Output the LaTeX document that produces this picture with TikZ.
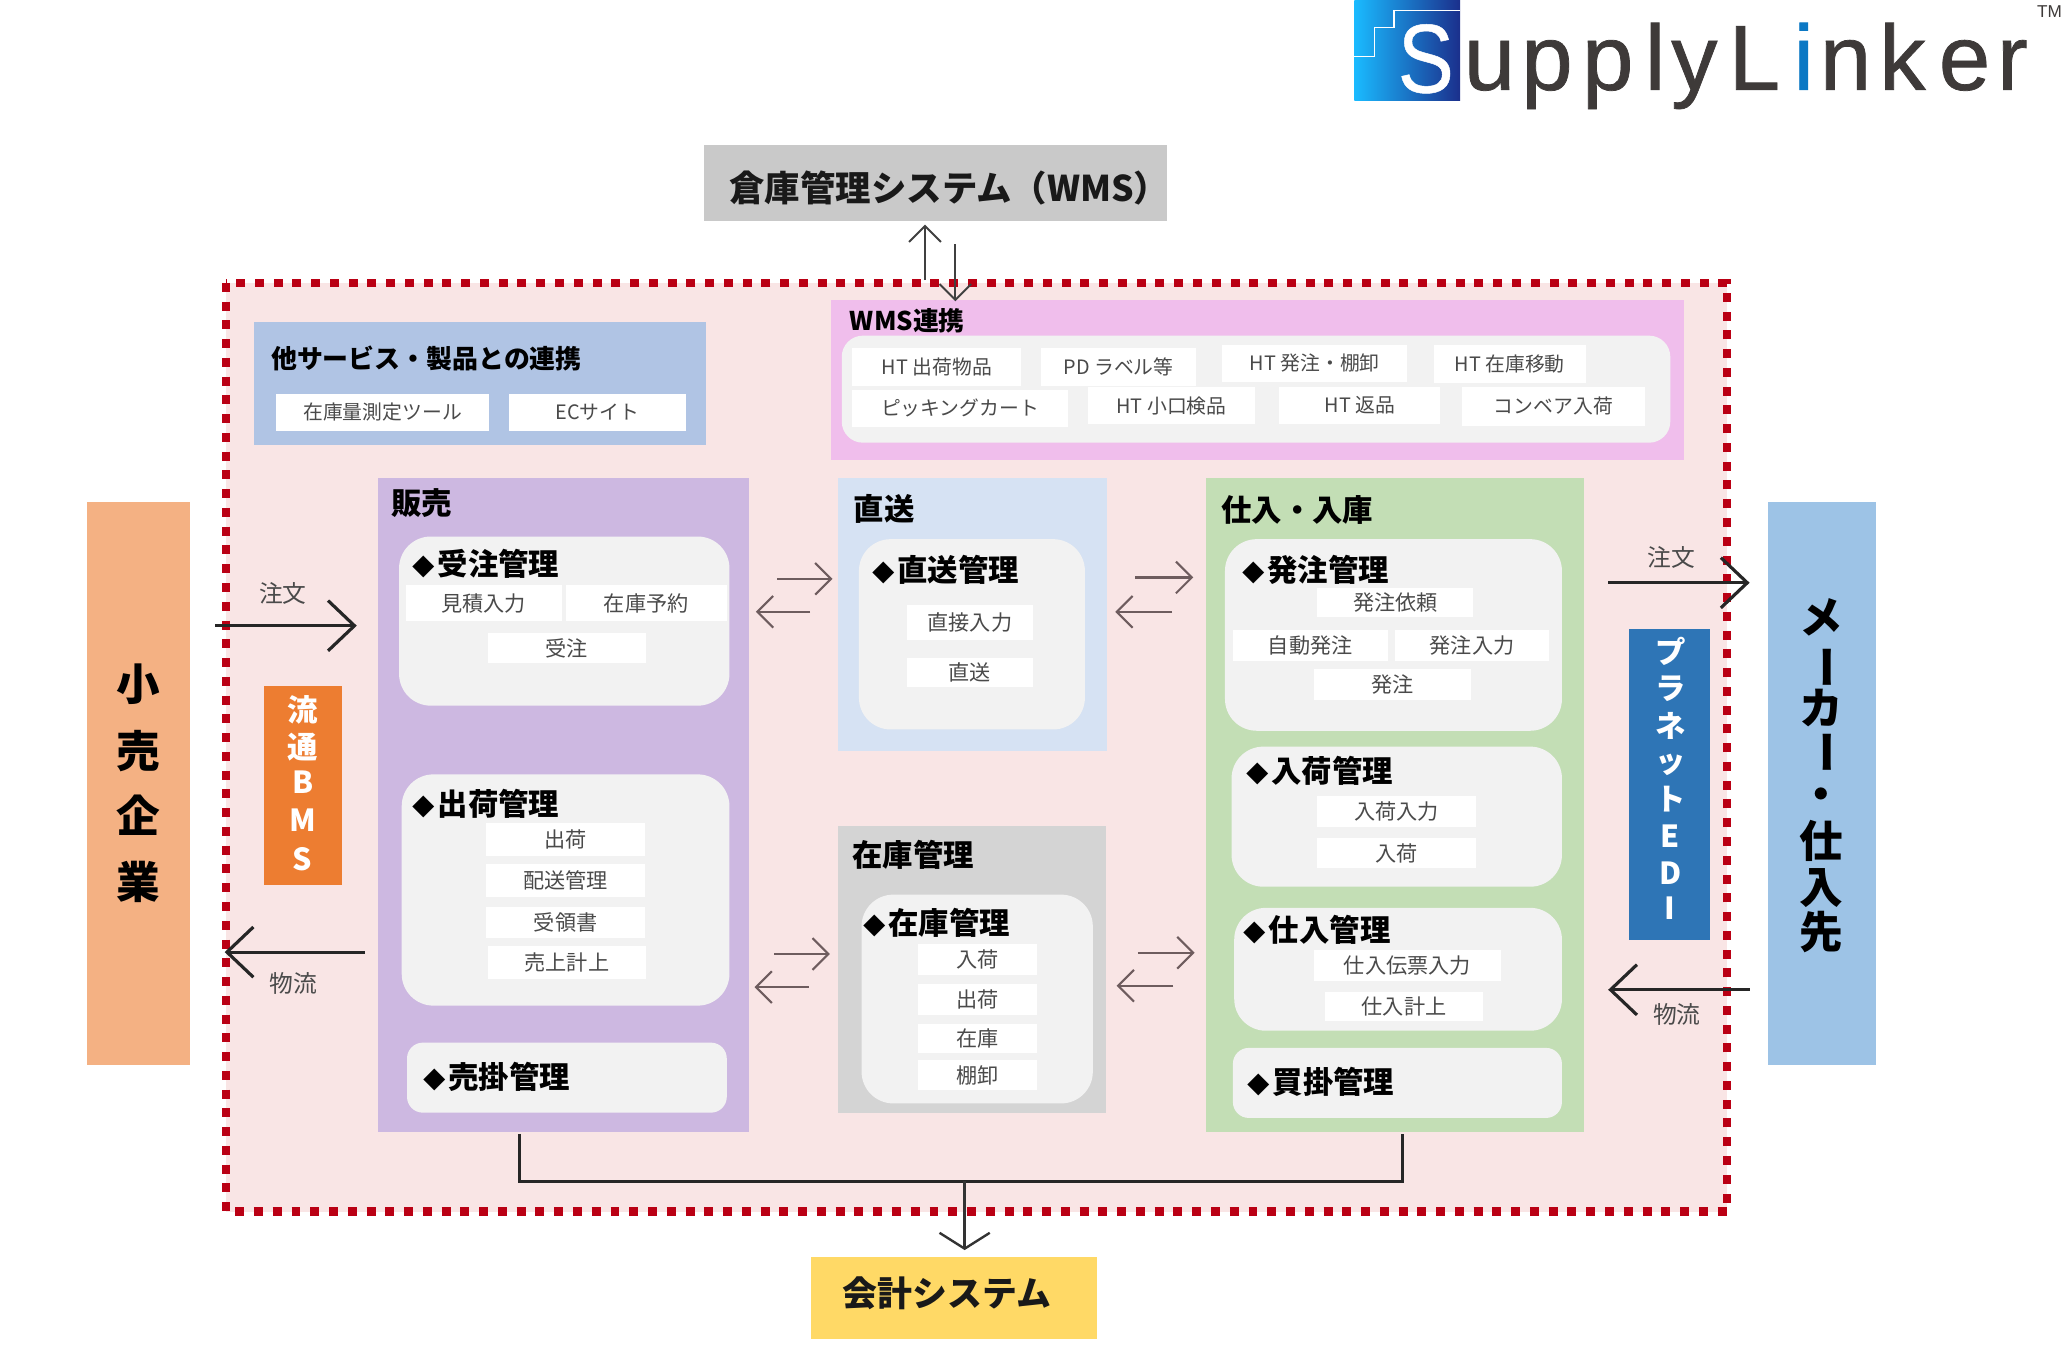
\documentclass[tikz,border=0pt]{standalone}
\usepackage{fontspec}
\setmainfont{Noto Sans CJK JP}
\newfontfamily\logofont[FakeBold=0.8]{Liberation Sans}
\newfontfamily\lsfont[FakeBold=0.5]{Liberation Sans}
\newfontfamily\tmfont{Liberation Sans}
\usetikzlibrary{arrows.meta}
\definecolor{framered}{HTML}{BA0014}
\definecolor{framefill}{HTML}{F9E5E5}
\definecolor{cellgray}{HTML}{F2F2F2}
\definecolor{celltext}{HTML}{4A4A4A}
\definecolor{smallarrow}{HTML}{6E5C5E}
\definecolor{logotext}{HTML}{3E3A39}
\definecolor{logoblue}{HTML}{0B78C4}
\newcommand\fs[1]{\fontsize{#1}{#1}\selectfont}
\newcommand\dia{\makebox[19pt][l]{\fs{17}◆}}
\newcommand\rbox[7][]{\node[#1,minimum width={(#4-#2)*1pt},minimum height={(#5-#3)*1pt}] (#6) at ({(#2+#4)/2},{(#3+#5)/2}) {#7};}
\tikzset{
  x=1pt,y=-1pt,
  flat/.style={inner sep=0pt,outer sep=0pt,rectangle},
  inner/.style={flat,fill=cellgray,rounded corners=24pt},
  innerflat/.style={flat,fill=cellgray,rounded corners=12pt},
  cellbox/.style={flat,fill=white,text=celltext,font=\fs{16}},
  wcell/.style={flat,fill=white,text=celltext,font=\fs{15}},
  title/.style={anchor=west,inner sep=0pt,font=\fs{23}\bfseries,text=black},
  lbl/.style={inner sep=0pt,font=\fs{18},text=celltext},
  logoletter/.style={inner sep=0pt,anchor=base west,text=logotext,font=\fs{70}\logofont},
  bigarrow/.style={line width=2.4pt,draw=black!85,-{Straight Barb[length=20pt,width=38pt,line width=2.4pt]}},
  smallarr/.style={line width=1.6pt,draw=smallarrow,-{Straight Barb[length=12pt,width=24pt,line width=1.6pt]}},
  medarr/.style={line width=1.5pt,draw=black!75,-{Straight Barb[length=12pt,width=24pt,line width=1.5pt]}},
  vchar/.style={inner sep=0pt,font=\fs{33}\bfseries,text=black},
  wchar/.style={inner sep=0pt,text=white,font=\fs{23}\bfseries},
}
\begin{document}
\begin{tikzpicture}
\useasboundingbox (0,0) rectangle (1568,1021);
\fill[white] (0,0) rectangle (1568,1021);

% logo
\shade[left color=cyan!70!blue!90!white,middle color={rgb,255:red,40;green,160;blue,225},right color={rgb,255:red,27;green,47;blue,140}] (1025,0) rectangle (1105,76);
\draw[white,line width=1pt] (1025,43) -- (1040,43) -- (1040,21) -- (1055,21) -- (1055,8) -- (1105,8);
\node[inner sep=0pt,text=white,xscale=0.86,font=\fs{74}\lsfont,anchor=base] (logoS) at (1079,70) {S};
\node[logoletter] (lu) at (1107.5,68) {u};
\node[logoletter] (lp1) at (1151,68) {p};
\node[logoletter] (lp2) at (1197,68) {p};
\node[logoletter] (ll) at (1244.5,68) {l};
\node[logoletter] (ly) at (1264.5,68) {y};
\node[logoletter] (lL) at (1308,68) {L};
\node[logoletter,text=logoblue] (li) at (1357,68) {i};
\node[logoletter] (ln) at (1377,68) {n};
\node[logoletter] (lk) at (1422,68) {k};
\node[logoletter] (le) at (1467,68) {e};
\node[logoletter] (lr) at (1511,68) {r};
\node[inner sep=0pt,text=logotext,font=\fs{13}\tmfont] (tm) at (1551,9) {TM};

% frame
\path[fill=framefill] (171,214) rectangle (1307,917);
\draw[framered,line width=6.5pt,dash pattern=on 6.8pt off 7.4pt] (171,214) rectangle (1307,917);

% outer systems
\rbox[flat,fill={rgb,255:red,201;green,201;blue,201}]{533}{110}{883}{167}{wms}{}
\node[inner sep=0pt,font=\fs{26.8}\bfseries,text=black!90] (wmsT) at (718.5,142) {倉庫管理システム（WMS）};
\rbox[flat,fill={rgb,255:red,255;green,217;blue,102}]{614}{951}{830}{1013}{acct}{}
\node[inner sep=0pt,font=\fs{26.4}\bfseries,text=black!90] (acctT) at (716.5,979) {会計システム};
\rbox[flat,fill={rgb,255:red,244;green,177;blue,131}]{66}{380}{144}{806}{retail}{}
\rbox[flat,fill={rgb,255:red,157;green,195;blue,230}]{1338}{380}{1420}{806}{maker}{}
\node[vchar] (r1) at (105,518) {小};
\node[vchar] (r2) at (105,568) {売};
\node[vchar] (r3) at (105,617) {企};
\node[vchar] (r4) at (105,667) {業};
\node[vchar] (m1) at (1378,467) {メ};
\node[vchar,rotate=-90] (m2) at (1378,505) {ー};
\node[vchar] (m3) at (1378,536) {カ};
\node[vchar,rotate=-90] (m4) at (1378,569) {ー};
\node[vchar] (m5) at (1378,605) {・};
\node[vchar] (m6) at (1378,636) {仕};
\node[vchar] (m7) at (1378,672) {入};
\node[vchar] (m8) at (1378,705) {先};

% BMS / EDI
\rbox[flat,fill={rgb,255:red,237;green,125;blue,49}]{200}{519}{259}{670}{bms}{}
\node[wchar] (b1) at (229,537) {流};
\node[wchar] (b2) at (229,565) {通};
\node[wchar] (b3) at (229,592) {B};
\node[wchar] (b4) at (229,621) {M};
\node[wchar] (b5) at (229,650) {S};
\rbox[flat,fill={rgb,255:red,46;green,117;blue,182}]{1233}{476}{1294}{711}{edi}{}
\node[wchar] (e1) at (1264,493) {プ};
\node[wchar] (e2) at (1264,521) {ラ};
\node[wchar] (e3) at (1264,549) {ネ};
\node[wchar] (e4) at (1264,579) {ッ};
\node[wchar] (e5) at (1264,605) {ト};
\node[wchar] (e6) at (1264,633) {E};
\node[wchar] (e7) at (1264,661) {D};
\node[wchar] (e8) at (1264,687) {I};

% other services
\rbox[flat,fill={rgb,255:red,176;green,196;blue,228}]{192}{244}{534}{337}{other}{}
\node[title,font=\fs{19.6}\bfseries] (otherT) at (205,271) {他サービス・製品との連携};
\rbox[wcell]{209}{298}{370}{326}{o1}{在庫量測定ツール}
\rbox[wcell]{385}{298}{519}{326}{o2}{ECサイト}

% WMS link
\rbox[flat,fill={rgb,255:red,240;green,190;blue,236}]{629}{227}{1274}{348}{wl}{}
\node[title,font=\fs{19.5}\bfseries] (wlT) at (643,243) {WMS連携};
\rbox[inner,rounded corners=16pt]{637}{254}{1264}{335}{wlin}{}
\rbox[wcell]{645}{263}{773}{292}{w1}{HT 出荷物品}
\rbox[wcell]{788}{263}{905}{292}{w2}{PD ラベル等}
\rbox[wcell]{925}{261}{1065}{289}{w3}{HT 発注・棚卸}
\rbox[wcell]{1085}{261}{1200}{290}{w4}{HT 在庫移動}
\rbox[wcell]{645}{295}{808}{323}{w5}{ピッキングカート}
\rbox[wcell]{823}{293}{950}{321}{w6}{HT 小口検品}
\rbox[wcell]{968}{293}{1090}{321}{w7}{HT 返品}
\rbox[wcell]{1106}{293}{1245}{322}{w8}{コンベア入荷}

% sales
\rbox[flat,fill={rgb,255:red,205;green,184;blue,225}]{286}{362}{567}{857}{hanbai}{}
\node[title] (hanbaiT) at (296,381) {販売};
\rbox[inner]{302}{406}{552}{534}{juchu}{}
\node[title] (juchuT) at (312,427) {\dia 受注管理};
\rbox[cellbox]{307}{443}{425}{470}{j1}{見積入力}
\rbox[cellbox]{428}{443}{550}{470}{j2}{在庫予約}
\rbox[cellbox]{369}{479}{489}{502}{j3}{受注}
\rbox[inner]{304}{586}{552}{761}{shukka}{}
\node[title] (shukkaT) at (312,608) {\dia 出荷管理};
\rbox[cellbox]{368}{623}{488}{648}{s1}{出荷}
\rbox[cellbox]{368}{654}{488}{679}{s2}{配送管理}
\rbox[cellbox]{368}{686}{488}{710}{s3}{受領書}
\rbox[cellbox]{369}{716}{489}{741}{s4}{売上計上}
\rbox[innerflat]{308}{789}{550}{842}{urikake}{}
\node[title] (urikakeT) at (320,815) {\dia 売掛管理};

% direct
\rbox[flat,fill={rgb,255:red,214;green,226;blue,243}]{634}{362}{838}{568}{choku}{}
\node[title] (chokuT) at (646,385) {直送};
\rbox[inner]{650}{408}{821}{552}{chokuin}{}
\node[title] (chokuinT) at (660,431) {\dia 直送管理};
\rbox[cellbox]{686}{458}{782}{484}{c1}{直接入力}
\rbox[cellbox]{686}{498}{782}{520}{c2}{直送}

% stock
\rbox[flat,fill={rgb,255:red,212;green,212;blue,212}]{634}{625}{837}{842}{zaiko}{}
\node[title] (zaikoT) at (645,647) {在庫管理};
\rbox[inner]{652}{677}{827}{835}{zaikoin}{}
\node[title] (zaikoinT) at (653,698) {\dia 在庫管理};
\rbox[cellbox]{695}{714}{785}{738}{z1}{入荷}
\rbox[cellbox]{695}{745}{785}{768}{z2}{出荷}
\rbox[cellbox]{695}{775}{785}{797}{z3}{在庫}
\rbox[cellbox]{695}{802}{785}{825}{z4}{棚卸}

% purchase
\rbox[flat,fill={rgb,255:red,195;green,222;blue,181}]{913}{362}{1199}{857}{shiire}{}
\node[title] (shiireT) at (924,386) {仕入・入庫};
\rbox[inner]{927}{408}{1182}{553}{hatchu}{}
\node[title] (hatchuT) at (940,431) {\dia 発注管理};
\rbox[cellbox]{997}{445}{1115}{467}{h1}{発注依頼}
\rbox[cellbox]{933}{477}{1050}{500}{h2}{自動発注}
\rbox[cellbox]{1056}{477}{1172}{500}{h3}{発注入力}
\rbox[cellbox]{994}{506}{1113}{530}{h4}{発注}
\rbox[inner]{932}{565}{1182}{671}{nyuka}{}
\node[title] (nyukaT) at (943,583) {\dia 入荷管理};
\rbox[cellbox]{997}{602}{1117}{626}{n1}{入荷入力}
\rbox[cellbox]{997}{634}{1117}{657}{n2}{入荷}
\rbox[inner]{934}{687}{1182}{780}{shi}{}
\node[title] (shiT) at (941,704) {\dia 仕入管理};
\rbox[cellbox]{994}{719}{1136}{742}{p1}{仕入伝票入力}
\rbox[cellbox]{1003}{751}{1122}{773}{p2}{仕入計上}
\rbox[innerflat]{933}{793}{1182}{846}{kaikake}{}
\node[title] (kaikakeT) at (944,819) {\dia 買掛管理};

% labels
\node[lbl] (l1) at (214,449) {注文};
\node[lbl] (l2) at (222,744) {物流};
\node[lbl] (l3) at (1265,422) {注文};
\node[lbl] (l4) at (1269,768) {物流};

% connector end points
\coordinate (a1s) at (163,473.5); \coordinate (a1e) at (270,473.5);
\coordinate (a2s) at (276,720.5); \coordinate (a2e) at (170,720.5);
\coordinate (a3s) at (1217,441); \coordinate (a3e) at (1324,441);
\coordinate (a4s) at (1324,749); \coordinate (a4e) at (1217,749);
\coordinate (u1s) at (700,212); \coordinate (u1e) at (700,170);
\coordinate (u2s) at (723,185); \coordinate (u2e) at (723,228);
\coordinate (k1) at (393,858); \coordinate (k2) at (393,894);
\coordinate (k3) at (1061,894); \coordinate (k4) at (1061,858);
\coordinate (k5) at (730,894); \coordinate (k6) at (730,946);

\draw[bigarrow] (a1s) -- (a1e);
\draw[bigarrow] (a2s) -- (a2e);
\draw[bigarrow] (a3s) -- (a3e);
\draw[bigarrow] (a4s) -- (a4e);
\draw[medarr] (u1s) -- (u1e);
\draw[medarr] (u2s) -- (u2e);
\draw[line width=2.2pt,draw=black!85] (k1) -- (k2) -- (k3) -- (k4);
\draw[line width=1.8pt,draw=black!80,-{Straight Barb[length=12pt,width=38pt,line width=1.8pt]}] (k5) -- (k6);

\coordinate (p1a) at (588,438); \coordinate (p1b) at (630,438);
\coordinate (p1c) at (613,463); \coordinate (p1d) at (572,463);
\coordinate (p2a) at (586,722); \coordinate (p2b) at (628,722);
\coordinate (p2c) at (612,747); \coordinate (p2d) at (571,747);
\coordinate (p3a) at (859,437); \coordinate (p3b) at (903,437);
\coordinate (p3c) at (887,463); \coordinate (p3d) at (844,463);
\coordinate (p4a) at (861,721); \coordinate (p4b) at (904,721);
\coordinate (p4c) at (888,746); \coordinate (p4d) at (845,746);
\draw[smallarr] (p1a) -- (p1b);
\draw[smallarr] (p1c) -- (p1d);
\draw[smallarr] (p2a) -- (p2b);
\draw[smallarr] (p2c) -- (p2d);
\draw[smallarr] (p3a) -- (p3b);
\draw[smallarr] (p3c) -- (p3d);
\draw[smallarr] (p4a) -- (p4b);
\draw[smallarr] (p4c) -- (p4d);
\end{tikzpicture}
\end{document}
